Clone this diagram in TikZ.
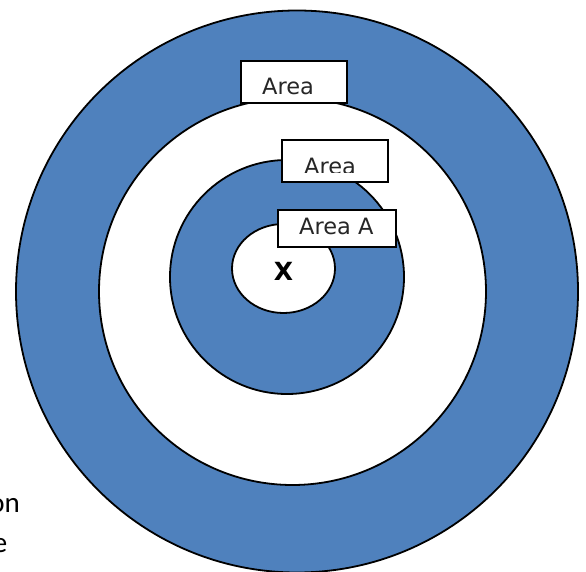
\documentclass[tikz,border=0pt]{standalone}
\usepackage{fontspec}
\setmainfont{DejaVu Sans}
\newfontfamily\fragfont{Carlito}
\usetikzlibrary{shapes.geometric}
\definecolor{ringblue}{HTML}{4F81BD}
\tikzset{
  ring/.style={circle, draw=black, line width=1.8pt, inner sep=0pt},
  bluering/.style={ring, fill=ringblue},
  whitering/.style={ring, fill=white},
  labelbox/.style={draw=black, line width=1.6pt, fill=white, inner sep=0pt, minimum height=42pt},
  labeltext/.style={inner sep=0pt, anchor=base west, text=black!85, font=\fontsize{22.5}{26}\selectfont},
  fragtext/.style={inner sep=0pt, anchor=base east, font=\fragfont\fontsize{29}{34}\selectfont},
  marktext/.style={inner sep=0pt, font=\bfseries\fontsize{25}{29}\selectfont}
}
\begin{document}
\begin{tikzpicture}[x=1pt,y=-1pt]
\useasboundingbox (0,0) rectangle (586,572);
\fill[white] (0,0) rectangle (586,572);
% stray text fragments at the lower left
\begin{scope}
  \clip (0,440) rectangle (100,572);
  \node[fragtext] (frag1) at (20,512) {on};
  \node[fragtext] (frag2) at (7.5,552) {e};
\end{scope}
% rings
\node[bluering, minimum size=562pt] (outer) at (297,291.5) {};
\node[whitering, minimum size=387pt] (middle) at (292.5,291.5) {};
\node[bluering, minimum size=234pt] (inner) at (287,277) {};
\node[ellipse, draw=black, line width=1.8pt, fill=white, inner sep=0pt,
      minimum width=103pt, minimum height=89pt] (centre) at (283.5,268.5) {};
\node[marktext] (xmark) at (283.5,271.5) {X};
% label boxes
\node[labelbox, minimum width=106pt] (box1) at (294,82) {};
\begin{scope}
  \clip (box1.north west) rectangle (box1.east |- 0,94.5);
  \node[labeltext] (txt1) at (262,94.5) {Area};
\end{scope}
\node[labelbox, minimum width=106pt] (box2) at (335,161) {};
\begin{scope}
  \clip (box2.north west) rectangle (box2.east |- 0,172.5);
  \node[labeltext] (txt2) at (304,174.5) {Area};
\end{scope}
\node[labelbox, minimum width=118pt, minimum height=37pt] (box3) at (337,228.5) {};
\node[labeltext] (txt3) at (299,234.5) {Area A};
\end{tikzpicture}
\end{document}
